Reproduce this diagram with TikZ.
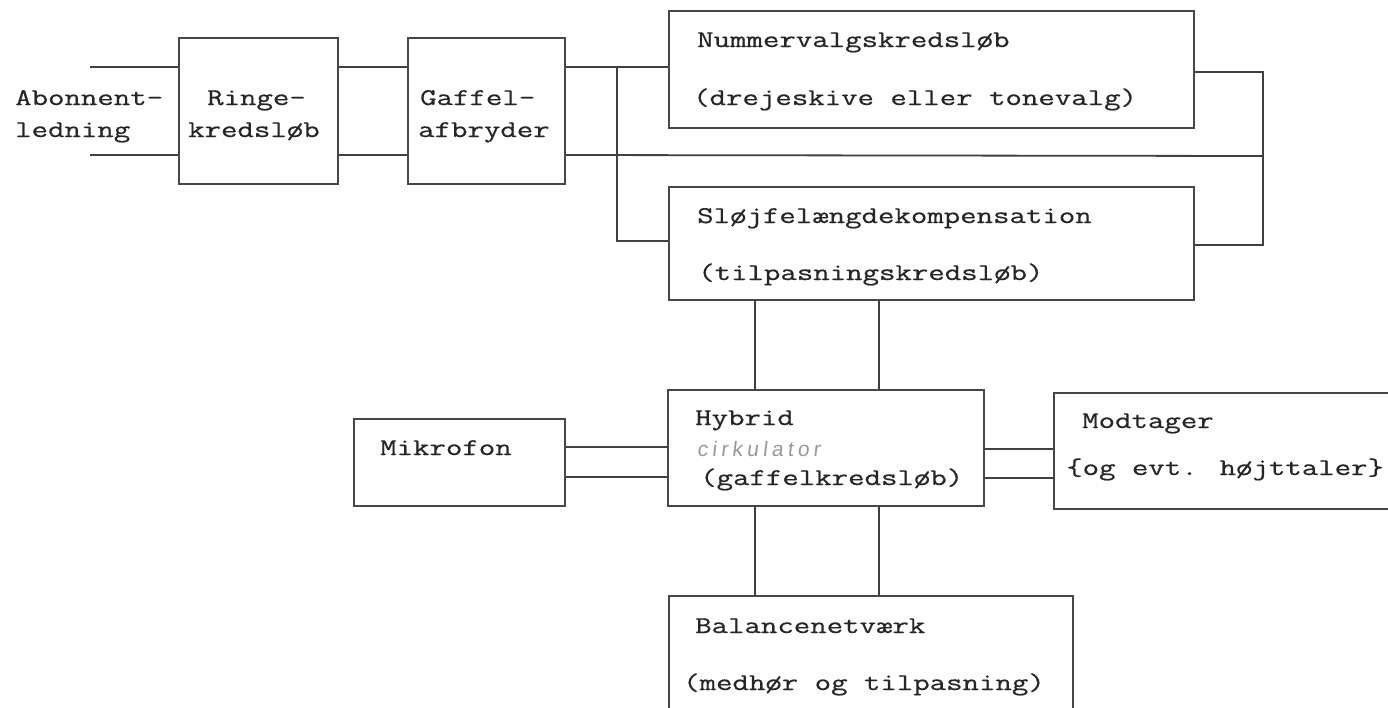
\documentclass[tikz,border=0pt]{standalone}
\usepackage{fontspec}
\newfontfamily\tw[FakeStretch=1.33, FakeBold=0.6]{Latin Modern Mono}
\newfontfamily\hand[FakeSlant=0.12, LetterSpace=20]{Liberation Sans}
\tikzset{
  box/.style={draw=black!72, line width=1.8pt, rectangle, anchor=north west, inner sep=0pt},
  wire/.style={draw=black!75, line width=1.8pt},
  lbl/.style={anchor=base west, inner sep=0pt, text=black!85,
              font=\tw\fontsize{24}{24}\selectfont},
  note/.style={anchor=base west, inner sep=0pt, text=black!40,
              font=\hand\fontsize{21}{21}\selectfont},
}
\begin{document}
\begin{tikzpicture}[x=1pt, y=-1pt]
\useasboundingbox (0,0) rectangle (1388,707);
\fill[white] (0,0) rectangle (1388,707);

% blocks
\node[box, minimum width=159pt, minimum height=146pt] (ringe)    at (178,37)  {};
\node[box, minimum width=157pt, minimum height=146pt] (gaffel)   at (407,37)  {};
\node[box, minimum width=525pt, minimum height=117pt] (nummer)   at (668,10)  {};
\node[box, minimum width=525pt, minimum height=113pt] (sloejfe)  at (668,186) {};
\node[box, minimum width=316pt, minimum height=116pt] (hybrid)   at (667,389) {};
\node[box, minimum width=211pt, minimum height=87pt]  (mikro)    at (353,418) {};
\node[box, minimum width=360pt, minimum height=116pt] (modtager) at (1053,392) {};
\node[box, minimum width=404pt, minimum height=140pt] (balance)  at (668,595) {};

% labels
\node[lbl] (t1)  at (15,105)  {Abonnent-};
\node[lbl] (t2)  at (15,137)  {ledning};
\node[lbl] (t3)  at (207,105) {Ringe-};
\node[lbl] (t4)  at (188,137) {kredsløb};
\node[lbl] (t5)  at (420,105) {Gaffel-};
\node[lbl] (t6)  at (418,137) {afbryder};
\node[lbl] (t7)  at (697,47)  {Nummervalgskredsløb};
\node[lbl] (t8)  at (693,105) {(drejeskive eller tonevalg)};
\node[lbl] (t9)  at (697,223) {Sløjfelængdekompensation};
\node[lbl] (t10) at (698,280) {(tilpasningskredsløb)};
\node[lbl] (t11) at (695,425) {Hybrid};
\node[note] (t12) at (697,456) {cirkulator};
\node[lbl] (t13) at (700,485) {(gaffelkredsløb)};
\node[lbl] (t14) at (380,455) {Mikrofon};
\node[lbl] (t15) at (1082,428) {Modtager};
\node[lbl] (t16) at (1066,475) {\{og evt. højttaler\}};
\node[lbl] (t17) at (695,633) {Balancenetværk};
\node[lbl] (t18) at (683,690) {(medhør og tilpasning)};

% wire coordinates
\coordinate (aboT) at (90,67);
\coordinate (aboB) at (90,155);
\coordinate (brT)  at (617,67);
\coordinate (brB)  at (617,241);
\coordinate (rail) at (1263,156);
\coordinate (rT)   at (1263,72);
\coordinate (rB)   at (1263,245);
\coordinate (xa)   at (755,0);
\coordinate (xb)   at (879,0);
\coordinate (mA)   at (0,447);
\coordinate (mB)   at (0,477);
\coordinate (hA)   at (0,449);
\coordinate (hB)   at (0,478);

% subscriber line through ringer and hook switch
\draw[wire] (aboT) -- (aboT -| ringe.west);
\draw[wire] (aboB) -- (aboB -| ringe.west);
\draw[wire] (ringe.east |- aboT) -- (gaffel.west |- aboT);
\draw[wire] (ringe.east |- aboB) -- (gaffel.west |- aboB);
\draw[wire] (gaffel.east |- aboT) -- (nummer.west |- aboT);
\draw[wire] (brT) -- (brB) -- (brB -| sloejfe.west);
\draw[wire] (gaffel.east |- aboB) -- (rail);
\draw[wire] (nummer.east |- rT) -- (rT) -- (rB) -- (sloejfe.east |- rB);

% speech circuit
\draw[wire] (sloejfe.south -| xa) -- (hybrid.north -| xa);
\draw[wire] (sloejfe.south -| xb) -- (hybrid.north -| xb);
\draw[wire] (hybrid.south -| xa) -- (balance.north -| xa);
\draw[wire] (hybrid.south -| xb) -- (balance.north -| xb);
\draw[wire] (mikro.east |- mA) -- (hybrid.west |- mA);
\draw[wire] (mikro.east |- mB) -- (hybrid.west |- mB);
\draw[wire] (hybrid.east |- hA) -- (modtager.west |- hA);
\draw[wire] (hybrid.east |- hB) -- (modtager.west |- hB);
\end{tikzpicture}
\end{document}
